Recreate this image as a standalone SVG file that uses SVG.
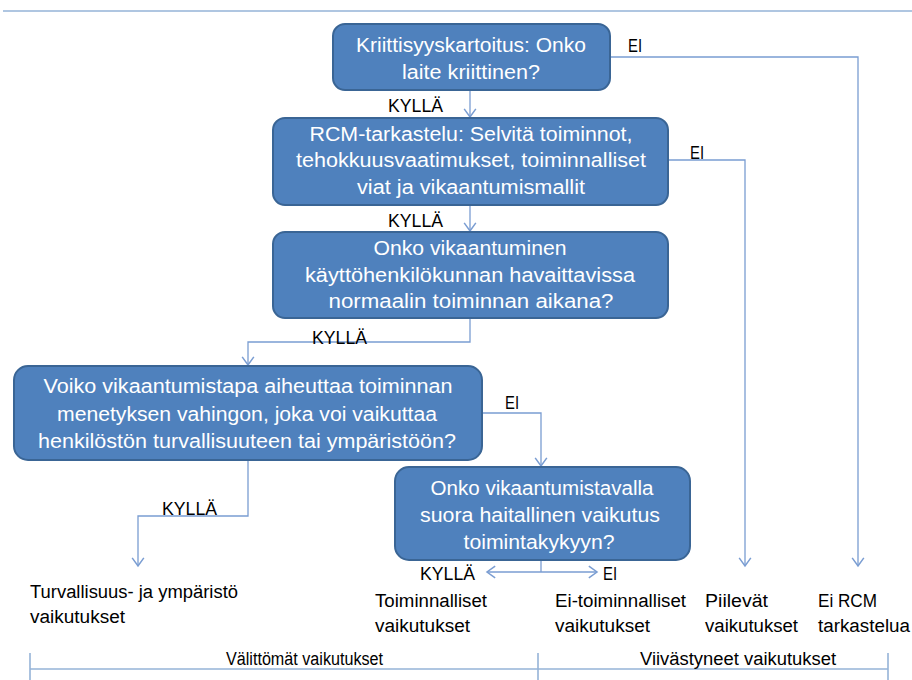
<svg xmlns="http://www.w3.org/2000/svg" width="912" height="680" viewBox="0 0 912 680">
<style>
.box{fill:#4f81bd;stroke:#3a6595;stroke-width:2}
.bt{font-family:"Liberation Sans",Arial,sans-serif;font-size:20px;fill:#ffffff;text-anchor:middle}
.lb{font-family:"Liberation Sans",Arial,sans-serif;font-size:18px;fill:#000000}
.con{fill:none;stroke:#7a9dd2;stroke-width:1.3}
.br{fill:none;stroke:#95b3d7;stroke-width:1.6}
</style>
<defs>
<marker id="arr" markerUnits="userSpaceOnUse" markerWidth="14" markerHeight="14" refX="0" refY="0" viewBox="-8 -6 10 12" orient="auto-start-reverse">
<path d="M-7,-5 L0,0 L-7,5" fill="none" stroke="#7a9dd2" stroke-width="1.3"/>
</marker>
</defs>
<rect width="912" height="680" fill="#ffffff"/>
<line class="br" x1="3" y1="11" x2="912" y2="11"/>

<g id="connectors">
<path class="con" d="M610,57 H858 V566" marker-end="url(#arr)"/>
<path class="con" d="M470,90 V117" marker-end="url(#arr)"/>
<path class="con" d="M668,160 H745 V566" marker-end="url(#arr)"/>
<path class="con" d="M470,205 V231" marker-end="url(#arr)"/>
<path class="con" d="M470,318 V342 H248 V365" marker-end="url(#arr)"/>
<path class="con" d="M482,413 H541 V466" marker-end="url(#arr)"/>
<path class="con" d="M248,460 V516 H138 V566" marker-end="url(#arr)"/>
<path class="con" d="M541,560 V572"/>
<path class="con" d="M487,572 H597" marker-start="url(#arr)" marker-end="url(#arr)"/>
</g>

<g id="n1">
<rect class="box" x="333" y="24" width="277" height="66" rx="12"/>
<text class="bt" x="471" y="52" textLength="230" lengthAdjust="spacingAndGlyphs">Kriittisyyskartoitus: Onko</text>
<text class="bt" x="471" y="79" textLength="138" lengthAdjust="spacingAndGlyphs">laite kriittinen?</text>
</g>
<g id="n2">
<rect class="box" x="273" y="118" width="395" height="87" rx="12"/>
<text class="bt" x="471" y="141" textLength="323" lengthAdjust="spacingAndGlyphs">RCM-tarkastelu: Selvitä toiminnot,</text>
<text class="bt" x="471" y="167" textLength="350" lengthAdjust="spacingAndGlyphs">tehokkuusvaatimukset, toiminnalliset</text>
<text class="bt" x="471" y="194" textLength="228" lengthAdjust="spacingAndGlyphs">viat ja vikaantumismallit</text>
</g>
<g id="n3">
<rect class="box" x="273" y="232" width="395" height="86" rx="12"/>
<text class="bt" x="470" y="255" textLength="193" lengthAdjust="spacingAndGlyphs">Onko vikaantuminen</text>
<text class="bt" x="470" y="282" textLength="330" lengthAdjust="spacingAndGlyphs">käyttöhenkilökunnan havaittavissa</text>
<text class="bt" x="471" y="308" textLength="285" lengthAdjust="spacingAndGlyphs">normaalin toiminnan aikana?</text>
</g>
<g id="n4">
<rect class="box" x="14" y="366" width="468" height="94" rx="14"/>
<text class="bt" x="248" y="393" textLength="409" lengthAdjust="spacingAndGlyphs">Voiko vikaantumistapa aiheuttaa toiminnan</text>
<text class="bt" x="247" y="421" textLength="380" lengthAdjust="spacingAndGlyphs">menetyksen vahingon, joka voi vaikuttaa</text>
<text class="bt" x="247" y="448" textLength="418" lengthAdjust="spacingAndGlyphs">henkilöstön turvallisuuteen tai ympäristöön?</text>
</g>
<g id="n5">
<rect class="box" x="395" y="467" width="295" height="93" rx="14"/>
<text class="bt" x="542" y="495" textLength="223" lengthAdjust="spacingAndGlyphs">Onko vikaantumistavalla</text>
<text class="bt" x="540" y="522" textLength="240" lengthAdjust="spacingAndGlyphs">suora haitallinen vaikutus</text>
<text class="bt" x="539" y="549" textLength="151" lengthAdjust="spacingAndGlyphs">toimintakykyyn?</text>
</g>

<g id="labels">
<text class="lb" x="628" y="52" textLength="14" lengthAdjust="spacingAndGlyphs">EI</text>
<text class="lb" x="388" y="112" textLength="55" lengthAdjust="spacingAndGlyphs">KYLLÄ</text>
<text class="lb" x="690" y="159" textLength="14" lengthAdjust="spacingAndGlyphs">EI</text>
<text class="lb" x="388" y="227" textLength="55" lengthAdjust="spacingAndGlyphs">KYLLÄ</text>
<text class="lb" x="312" y="344" textLength="55" lengthAdjust="spacingAndGlyphs">KYLLÄ</text>
<text class="lb" x="505" y="409" textLength="14" lengthAdjust="spacingAndGlyphs">EI</text>
<text class="lb" x="162" y="515" textLength="55" lengthAdjust="spacingAndGlyphs">KYLLÄ</text>
<text class="lb" x="420" y="580" textLength="55" lengthAdjust="spacingAndGlyphs">KYLLÄ</text>
<text class="lb" x="603" y="580" textLength="14" lengthAdjust="spacingAndGlyphs">EI</text>
</g>

<g id="outcomes">
<text class="lb" x="30" y="598" textLength="208" lengthAdjust="spacingAndGlyphs">Turvallisuus- ja ympäristö</text>
<text class="lb" x="30" y="623" textLength="95" lengthAdjust="spacingAndGlyphs">vaikutukset</text>
<text class="lb" x="375" y="607" textLength="112" lengthAdjust="spacingAndGlyphs">Toiminnalliset</text>
<text class="lb" x="375" y="632" textLength="95" lengthAdjust="spacingAndGlyphs">vaikutukset</text>
<text class="lb" x="555" y="607" textLength="131" lengthAdjust="spacingAndGlyphs">Ei-toiminnalliset</text>
<text class="lb" x="555" y="632" textLength="95" lengthAdjust="spacingAndGlyphs">vaikutukset</text>
<text class="lb" x="705" y="607" textLength="63" lengthAdjust="spacingAndGlyphs">Piilevät</text>
<text class="lb" x="705" y="632" textLength="93" lengthAdjust="spacingAndGlyphs">vaikutukset</text>
<text class="lb" x="818" y="607" textLength="59" lengthAdjust="spacingAndGlyphs">Ei RCM</text>
<text class="lb" x="818" y="632" textLength="92" lengthAdjust="spacingAndGlyphs">tarkastelua</text>
</g>

<g id="timeline">
<line class="br" x1="30" y1="669" x2="888" y2="669"/>
<line class="br" x1="30" y1="653" x2="30" y2="680"/>
<line class="br" x1="538" y1="653" x2="538" y2="680"/>
<line class="br" x1="888" y1="653" x2="888" y2="680"/>
<text class="lb" x="226" y="665" textLength="157" lengthAdjust="spacingAndGlyphs">Välittömät vaikutukset</text>
<text class="lb" x="640" y="665" textLength="196" lengthAdjust="spacingAndGlyphs">Viivästyneet vaikutukset</text>
</g>
</svg>
